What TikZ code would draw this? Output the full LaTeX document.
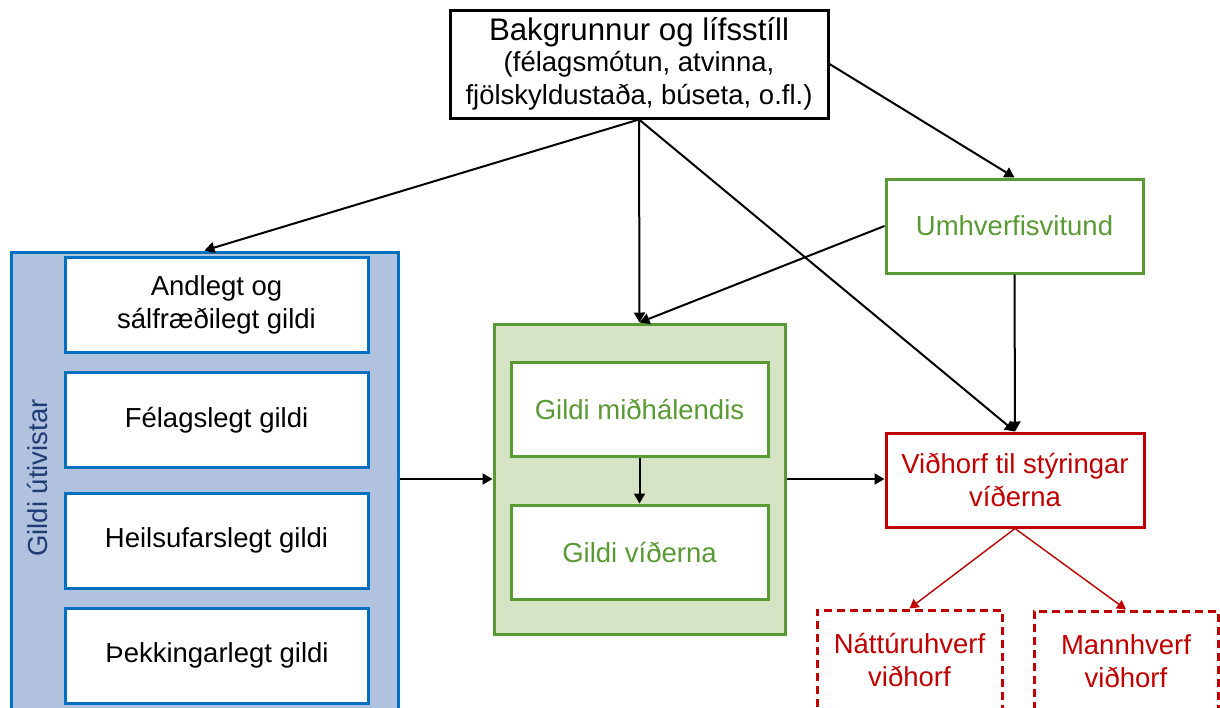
\documentclass[tikz,border=0pt]{standalone}
\usepackage{fontspec}
\setmainfont{Liberation Sans}
\usetikzlibrary{arrows.meta}
\definecolor{bblue}{HTML}{0070C0}
\definecolor{bfill}{HTML}{B1C2DE}
\definecolor{btext}{HTML}{1F3C74}
\definecolor{ggreen}{HTML}{5A9A34}
\definecolor{gfill}{HTML}{D6E3C5}
\definecolor{rred}{HTML}{C00000}
\tikzset{
  box/.style={draw, rectangle, line width=1.5pt, align=center, inner sep=0pt,
    font=\fontsize{13.75}{16.5}\selectfont},
  bluebox/.style={box, draw=bblue, fill=white, minimum width=151.5pt, minimum height=47.5pt},
  greenbox/.style={box, draw=ggreen, fill=white, text=ggreen, minimum width=128.5pt, minimum height=47pt},
  redbox/.style={box, draw=rred, fill=white, text=rred, minimum width=129pt, minimum height=47pt},
  dashbox/.style={box, draw=rred, text=rred, dash pattern=on 4pt off 2.5pt, minimum height=50pt},
  arr/.style={line width=1pt, -{Triangle[length=5pt,width=5.5pt]}},
  rarr/.style={line width=0.7pt, draw=rred, -{Triangle[length=4.5pt,width=5pt]}, rred},
}
\begin{document}
\begin{tikzpicture}[x=0.5pt,y=-0.5pt]
\clip (0,0) rectangle (1220,707);
\fill[white] (0,0) rectangle (1220,707);
% top box
\node[box, draw=black, minimum width=189pt, minimum height=54pt] (top) at (639,64)
  {{\fontsize{15.6}{17}\selectfont Bakgrunnur og lífsstíll}\\[-1pt](félagsmótun, atvinna,\\fjölskyldustaða, búseta, o.fl.)};
% left panel
\node[draw=bblue, fill=bfill, line width=1.5pt, rectangle, inner sep=0pt,
  minimum width=193.5pt, minimum height=254pt] (lp) at (204.5,506) {};
\node[rotate=90, text=btext, font=\fontsize{13.75}{16.5}\selectfont] (lpt) at (38,478) {Gildi útivistar};
\node[bluebox] (a1) at (216.5,304.5) {Andlegt og\\sálfræðilegt gildi};
\node[bluebox] (a2) at (216.5,420) {Félagslegt gildi};
\node[bluebox] (a3) at (216.5,540.5) {Heilsufarslegt gildi};
\node[bluebox] (a4) at (217,655.5) {Þekkingarlegt gildi};
% green panel
\node[draw=ggreen, fill=gfill, line width=1.5pt, rectangle, inner sep=0pt,
  minimum width=145.5pt, minimum height=155pt] (gp) at (639.5,479) {};
\node[greenbox] (g1) at (639.5,409) {Gildi miðhálendis};
\node[greenbox] (g2) at (639.5,552) {Gildi víðerna};
% right side
\node[greenbox] (umh) at (1014.5,226) {Umhverfisvitund};
\node[redbox] (vid) at (1015,480) {Viðhorf til stýringar\\víðerna};
\node[dashbox, minimum width=92.5pt] (d1) at (909.5,660) {Náttúruhverf\\viðhorf};
\node[dashbox, minimum width=92pt] (d2) at (1126,661) {Mannhverf\\viðhorf};
% connectors
\draw[arr] (top.south) -- (lp.north);
\draw[arr] (top.south) -- (gp.north);
\draw[arr] (top.south) -- (vid.north);
\draw[arr] (top.east) -- (umh.north);
\draw[arr] (umh.west) -- (gp.north);
\draw[arr] (umh.south) -- (vid.north);
\draw[arr] (lp.east |- gp.west) -- (gp.west);
\draw[arr] (gp.east) -- (vid.west |- gp.east);
\draw[arr] (g1.south) -- (g2.north);
\draw[rarr] (vid.south) -- (d1.north);
\draw[rarr] (vid.south) -- (d2.north);
\end{tikzpicture}
\end{document}
